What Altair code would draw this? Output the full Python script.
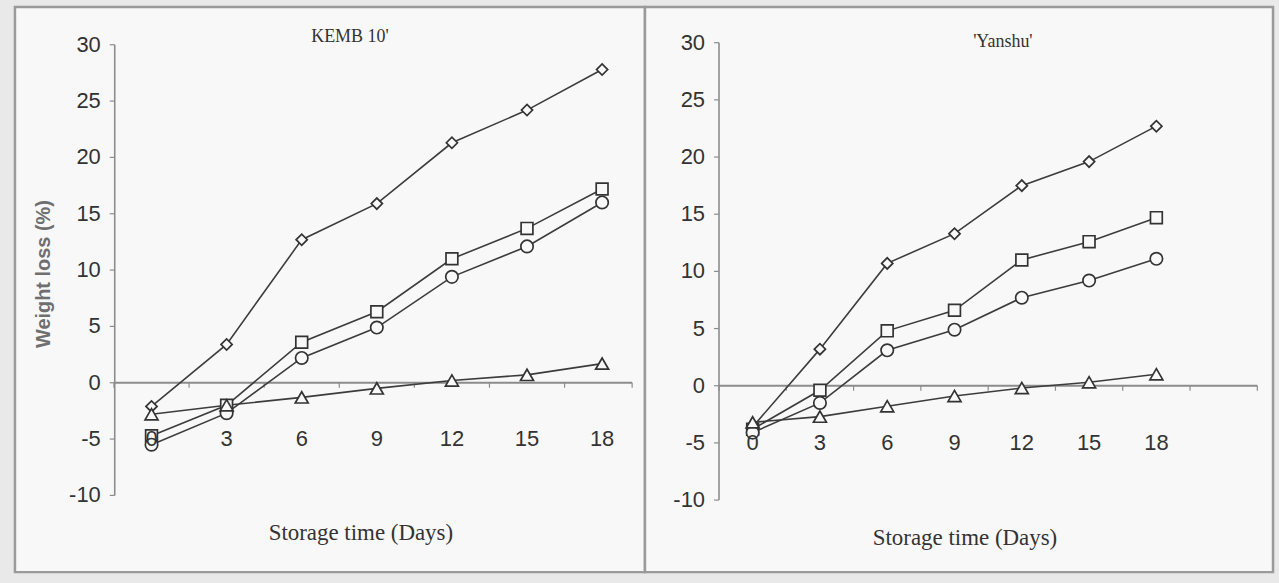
import altair as alt
import pandas as pd

# ---------------- data ----------------
days = [0, 3, 6, 9, 12, 15, 18]
series = ["diamond", "square", "circle", "triangle"]

kemb_diamond = [-2.1, 3.4, 12.7, 15.9, 21.3, 24.2, 27.8]
kemb_square = [-4.7, -2.0, 3.6, 6.3, 11.0, 13.7, 17.2]
kemb_circle = [-5.5, -2.7, 2.2, 4.9, 9.4, 12.1, 16.0]
kemb_triangle = [-2.8, -2.0, -1.3, -0.5, 0.2, 0.7, 1.7]

yanshu_diamond = [-3.6, 3.2, 10.7, 13.3, 17.5, 19.6, 22.7]
yanshu_square = [-3.8, -0.4, 4.8, 6.6, 11.0, 12.6, 14.7]
yanshu_circle = [-4.1, -1.5, 3.1, 4.9, 7.7, 9.2, 11.1]
yanshu_triangle = [-3.2, -2.7, -1.8, -0.9, -0.2, 0.3, 1.0]

y_ticks = [-10, -5, 0, 5, 10, 15, 20, 25, 30]
y_tick_labels = ["-10", "-5", "0", "5", "10", "15", "20", "25", "30"]
panel_titles = ["KEMB 10'", "'Yanshu'"]
x_title = "Storage time (Days)"
y_title = "Weight loss (%)"

# ---------------- styling ----------------
INK = "#333333"
LINE = "#3c3c3c"
GREY = "#8c8c8c"
PANEL_FILL = "#f8f8f8"
SANS = "Liberation Sans"
SERIF = "Liberation Serif"


def long_df(vals):
    rows = []
    for s, v in zip(series, vals):
        for d, y in zip(days, v):
            rows.append({"day": d, "value": y, "series": s})
    return pd.DataFrame(rows)


def panel(vals, title, width, height, xdom, ydom, x_extent, tick_x,
          title_pos, xtitle_pos, ytitle_pos=None):
    xs = alt.Scale(domain=xdom, nice=False, zero=False)
    ys = alt.Scale(domain=ydom, nice=False, zero=False)
    px_per_x = width / (xdom[1] - xdom[0])
    px_per_y = height / (ydom[1] - ydom[0])
    ytick_len = 5 / px_per_x
    xtick_len = 5 / px_per_y
    df = long_df(vals)

    zero_df = pd.DataFrame({"x0": [x_extent[0]], "x1": [x_extent[1]], "y0": [0]})
    zero_line = alt.Chart(zero_df).mark_rule(color=GREY, strokeWidth=2).encode(
        x=alt.X("x0:Q", scale=xs, axis=None), x2="x1:Q",
        y=alt.Y("y0:Q", scale=ys, axis=None))

    tick_df = pd.DataFrame({"tx": tick_x, "y0": [0] * len(tick_x),
                            "y1": [-xtick_len] * len(tick_x)})
    ticks = alt.Chart(tick_df).mark_rule(color=GREY, strokeWidth=1.2).encode(
        x=alt.X("tx:Q", scale=xs, axis=None),
        y=alt.Y("y0:Q", scale=ys, axis=None), y2="y1:Q")

    yl_df = pd.DataFrame({"x0": [x_extent[0]], "ylo": [y_ticks[0]], "yhi": [y_ticks[-1]]})
    y_line = alt.Chart(yl_df).mark_rule(color=GREY, strokeWidth=1.6).encode(
        x=alt.X("x0:Q", scale=xs, axis=None),
        y=alt.Y("ylo:Q", scale=ys, axis=None), y2="yhi:Q")

    yt_df = pd.DataFrame({"x0": [x_extent[0]] * len(y_ticks),
                          "x1": [x_extent[0] - ytick_len] * len(y_ticks),
                          "yv": y_ticks, "lab": y_tick_labels})
    y_tickmarks = alt.Chart(yt_df).mark_rule(color=GREY, strokeWidth=1.2).encode(
        x=alt.X("x0:Q", scale=xs, axis=None), x2="x1:Q",
        y=alt.Y("yv:Q", scale=ys, axis=None))
    y_labels = alt.Chart(yt_df).mark_text(
        font=SANS, fontSize=22, color=INK, align="right", baseline="middle",
        dx=-14).encode(
        x=alt.X("x0:Q", scale=xs, axis=None),
        y=alt.Y("yv:Q", scale=ys, axis=None),
        text="lab:N")

    lines = alt.Chart(df).mark_line(color=LINE, strokeWidth=1.6).encode(
        x=alt.X("day:Q", scale=xs, axis=None),
        y=alt.Y("value:Q", scale=ys, axis=None),
        detail="series:N")
    pts = alt.Chart(df).mark_point(filled=True, fill=PANEL_FILL, stroke=INK,
                                   strokeWidth=1.7, opacity=1).encode(
        x=alt.X("day:Q", scale=xs, axis=None),
        y=alt.Y("value:Q", scale=ys, axis=None),
        shape=alt.Shape("series:N", legend=None,
                        scale=alt.Scale(domain=series,
                                        range=["diamond", "square", "circle", "triangle-up"])),
        size=alt.Size("series:N", legend=None,
                      scale=alt.Scale(domain=series, range=[125, 170, 170, 150])))

    lab_df = pd.DataFrame({"day": days, "ly": [-5] * len(days)})
    xlabels = alt.Chart(lab_df).mark_text(
        font=SANS, fontSize=22, color=INK, baseline="middle").encode(
        x=alt.X("day:Q", scale=xs, axis=None),
        y=alt.Y("ly:Q", scale=ys, axis=None),
        text="day:Q")

    t_title = alt.Chart(pd.DataFrame({"t": [title]})).mark_text(
        font=SERIF, fontSize=18, color=INK).encode(
        x=alt.value(title_pos[0]), y=alt.value(title_pos[1]), text="t:N")
    t_xtitle = alt.Chart(pd.DataFrame({"t": [x_title]})).mark_text(
        font=SERIF, fontSize=23, color=INK).encode(
        x=alt.value(xtitle_pos[0]), y=alt.value(xtitle_pos[1]), text="t:N")
    layers = [zero_line, ticks, y_line, y_tickmarks, y_labels, lines, pts,
              xlabels, t_title, t_xtitle]
    if ytitle_pos is not None:
        t_ytitle = alt.Chart(pd.DataFrame({"t": [y_title]})).mark_text(
            font=SANS, fontSize=20, fontWeight="bold", color="#6f6f6f",
            angle=270).encode(
            x=alt.value(ytitle_pos[0]), y=alt.value(ytitle_pos[1]), text="t:N")
        layers.append(t_ytitle)
    return alt.layer(*layers).properties(width=width, height=height)


left = panel([kemb_diamond, kemb_square, kemb_circle, kemb_triangle],
             panel_titles[0], 632, 567,
             xdom=[-5.456, 19.713], ydom=[-16.81, 33.36],
             x_extent=[-1.47, 19.2],
             tick_x=[d - 1.5 for d in days] + [19.2],
             title_pos=(336, 30), xtitle_pos=(347, 528), ytitle_pos=(29, 268))

right = panel([yanshu_diamond, yanshu_square, yanshu_circle, yanshu_triangle],
              panel_titles[1], 630, 567,
              xdom=[-4.8, 23.2], ydom=[-16.30, 33.13],
              x_extent=[-1.5, 22.5],
              tick_x=[d - 1.5 for d in days] + [19.5, 22.5],
              title_pos=(359, 35), xtitle_pos=(321, 533))

chart = alt.hconcat(left, right, spacing=0, bounds="flush").properties(
    padding={"left": 13, "top": 4, "right": 4, "bottom": 12},
    background="#e9e9e9",
).configure_view(
    stroke="#9a9a9a", strokeWidth=2.5, fill=PANEL_FILL
)

chart.save("out.html", embed_options={"renderer": "svg", "actions": False})
